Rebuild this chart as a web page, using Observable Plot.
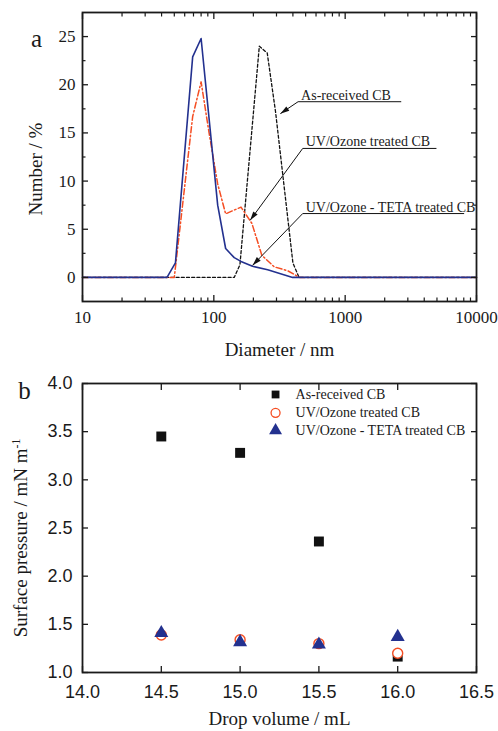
<!DOCTYPE html>
<html><head><meta charset="utf-8">
<script src="https://cdn.jsdelivr.net/npm/d3@7"></script>
<script src="https://cdn.jsdelivr.net/npm/@observablehq/plot@0.6"></script>
<style>
body{margin:0;background:#fff;}
#wrap{position:relative;width:498px;height:731px;background:#fff;overflow:hidden;}
#wrap svg{display:block;}
</style></head><body><div id="wrap"></div>
<script>
// ---------- Panel a: number size distribution ----------
const diamAsReceived = [10, 143, 158, 222, 255, 295, 400, 445, 10000];
const numAsReceived  = [0, 0, 1.3, 24.0, 23.3, 17.2, 1.5, 0, 0];

const diamUVOzone = [10, 50, 69, 80, 92, 107, 123, 161, 195, 232, 288, 364, 450, 10000];
const numUVOzone  = [0, 0, 16.7, 20.3, 15.0, 9.7, 6.6, 7.3, 5.6, 2.3, 1.1, 0.7, 0, 0];

const diamTeta = [10, 44, 51, 69, 80, 107, 123, 143, 161, 197, 257, 398, 10000];
const numTeta  = [0, 0, 1.5, 22.9, 24.8, 7.5, 3.0, 2.05, 1.66, 1.15, 0.8, 0, 0];

const xMajorA = [10, 100, 1000, 10000];
const xMinorA = [20,30,40,50,60,70,80,90,200,300,400,500,600,700,800,900,2000,3000,4000,5000,6000,7000,8000,9000];
const yMajorA = [0, 5, 10, 15, 20, 25];
const yMinorA = [2.5, 7.5, 12.5, 17.5, 22.5];

// annotation callouts (underline start/end, arrow tip)
const annotations = [
  {label: "As-received CB",              x1: 438, xEnd: 2672, y1: 18.24, x2: 321, y2: 17.0},
  {label: "UV/Ozone treated CB",         x1: 475, xEnd: 4955, y1: 13.39, x2: 189, y2: 5.93},
  {label: "UV/Ozone - TETA treated CB",  x1: 475, xEnd: 8054, y1: 6.63,  x2: 197, y2: 1.25}
];

// ---------- Panel b: surface pressure ----------
const dropVolume   = [14.5, 15.0, 15.5, 16.0];
const spAsReceived = [3.45, 3.28, 2.36, 1.165];
const spUVOzone    = [1.39, 1.34, 1.30, 1.20];
const spTeta       = [1.41, 1.315, 1.29, 1.37];

const xTicksB = [14.0, 14.5, 15.0, 15.5, 16.0, 16.5];
const yTicksB = [1.0, 1.5, 2.0, 2.5, 3.0, 3.5, 4.0];

const seriesNames = ["As-received CB", "UV/Ozone treated CB", "UV/Ozone - TETA treated CB"];
const legendX = 15.225;
const legendY = [3.886, 3.696, 3.512];

// ---------- styling ----------
const serif = "'Liberation Serif', 'Times New Roman', serif";
const sans = "'Liberation Sans', Arial, sans-serif";
const cBlue = "#23318f", cRed = "#f54d22", cBlack = "#111111";
const rows = (xs, ys) => xs.map((x, i) => ({x, y: ys[i]}));
const blank = () => "";

// filled, narrow arrowhead pointing along +x with its tip at the origin
const arrowHead = {
  draw(context) {
    context.moveTo(0, 0);
    context.lineTo(-9, -2.7);
    context.lineTo(-9, 2.7);
    context.closePath();
  }
};

function buildA(extra) {
  return Plot.plot({
    width: 498, height: 365,
    marginLeft: 82, marginRight: 22, marginTop: 12, marginBottom: 64,
    style: {fontFamily: serif, fontSize: "17px", background: "white", color: "#1a1a1a"},
    x: {type: "log", domain: [10, 10000]},
    y: {domain: [-2.5, 27.5]},
    marks: [
      Plot.line(rows(diamAsReceived, numAsReceived), {x: "x", y: "y", stroke: cBlack, strokeWidth: 1.3, strokeDasharray: "3,2.2"}),
      Plot.line(rows(diamUVOzone, numUVOzone), {x: "x", y: "y", stroke: cRed, strokeWidth: 1.5, strokeDasharray: "6,2.5,1.5,2.5"}),
      Plot.line(rows(diamTeta, numTeta), {x: "x", y: "y", stroke: cBlue, strokeWidth: 1.6}),
      Plot.link(annotations, {x1: "x1", x2: "xEnd", y1: "y1", y2: "y1", stroke: cBlack, strokeWidth: 1}),
      Plot.link(annotations, {x1: "x1", y1: "y1", x2: "x2", y2: "y2", stroke: cBlack, strokeWidth: 1}),
      Plot.text(annotations, {x: "x1", y: "y1", text: "label", textAnchor: "start", lineAnchor: "bottom", dx: 3, dy: -2, fontSize: 14, fill: "#1a1a1a"}),
      ...extra,
      // axes
      Plot.axisX({ticks: xMajorA, tickSize: 0, tickPadding: 9, tickFormat: d => String(d), label: null}),
      Plot.axisX({ticks: xMajorA, anchor: "bottom", tickSize: -6, tickFormat: blank, label: null, strokeWidth: 1.3}),
      Plot.axisX({ticks: xMinorA, anchor: "bottom", tickSize: -3.5, tickFormat: blank, label: null, strokeWidth: 1.2}),
      Plot.axisX({ticks: xMajorA, anchor: "top", tickSize: -6, tickFormat: blank, label: null, strokeWidth: 1.3}),
      Plot.axisX({ticks: xMinorA, anchor: "top", tickSize: -3.5, tickFormat: blank, label: null, strokeWidth: 1.2}),
      Plot.axisY({ticks: yMajorA, tickSize: 0, tickPadding: 7, label: null}),
      Plot.axisY({ticks: yMajorA, anchor: "left", tickSize: -6, tickFormat: blank, label: null, strokeWidth: 1.3}),
      Plot.axisY({ticks: yMinorA, anchor: "left", tickSize: -3.5, tickFormat: blank, label: null, strokeWidth: 1.2}),
      Plot.axisY({ticks: yMajorA, anchor: "right", tickSize: -6, tickFormat: blank, label: null, strokeWidth: 1.3}),
      Plot.axisY({ticks: yMinorA, anchor: "right", tickSize: -3.5, tickFormat: blank, label: null, strokeWidth: 1.2}),
      Plot.frame({stroke: "#1a1a1a", strokeWidth: 1.8}),
      Plot.text(["Diameter / nm"], {frameAnchor: "bottom", dy: 48, fontSize: 19, lineAnchor: "middle", fill: "#1a1a1a"}),
      Plot.text(["Number / %"], {frameAnchor: "left", rotate: -90, textAnchor: "middle", dx: -47, dy: 12, fontSize: 19, lineAnchor: "middle", fill: "#1a1a1a"}),
      Plot.text(["a"], {frameAnchor: "top-left", textAnchor: "middle", dx: -46, dy: 26, fontSize: 25, lineAnchor: "middle", fill: "#1a1a1a"})
    ]
  });
}

// first pass to read the scales, then orient the arrowheads in screen space
const pre = buildA([]);
const sx = pre.scale("x"), sy = pre.scale("y");
const heads = annotations.map(a => ({
  x: a.x2, y: a.y2,
  angle: Math.atan2(sy.apply(a.y2) - sy.apply(a.y1), sx.apply(a.x2) - sx.apply(a.x1)) * 180 / Math.PI
}));
const chartA = buildA([
  Plot.dot(heads, {x: "x", y: "y", rotate: "angle", symbol: arrowHead, r: 3, fill: cBlack, stroke: "none"})
]);

const legendRows = seriesNames.map((name, i) => ({name, x: legendX, y: legendY[i]}));

const chartB = Plot.plot({
  width: 498, height: 366,
  marginLeft: 82, marginRight: 22, marginTop: 18, marginBottom: 59,
  style: {fontFamily: sans, fontSize: "18px", background: "white", color: "#1a1a1a"},
  x: {domain: [14, 16.5]},
  y: {domain: [1, 4]},
  marks: [
    Plot.dot(rows(dropVolume, spAsReceived), {x: "x", y: "y", symbol: "square", r: 5.6, fill: cBlack, stroke: "none"}),
    Plot.dot(rows(dropVolume, spUVOzone), {x: "x", y: "y", symbol: "circle", r: 5, fill: "white", stroke: cRed, strokeWidth: 1.4}),
    Plot.dot(rows(dropVolume, spTeta), {x: "x", y: "y", symbol: "triangle", r: 5.2, fill: cBlue, stroke: "none"}),
    // legend
    Plot.dot([legendRows[0]], {x: "x", y: "y", symbol: "square", r: 4.4, fill: cBlack}),
    Plot.dot([legendRows[1]], {x: "x", y: "y", symbol: "circle", r: 4.5, fill: "white", stroke: cRed, strokeWidth: 1.3}),
    Plot.dot([legendRows[2]], {x: "x", y: "y", symbol: "triangle", r: 4.8, fill: cBlue}),
    Plot.text(legendRows, {x: "x", y: "y", text: "name", textAnchor: "start", dx: 20, fontSize: 14, fontFamily: serif, fill: "#1a1a1a"}),
    // axes
    Plot.axisX({ticks: xTicksB, tickSize: 0, tickPadding: 13, tickFormat: d3.format(".1f"), label: null}),
    Plot.axisX({ticks: xTicksB, anchor: "bottom", tickSize: -6, tickFormat: blank, label: null, strokeWidth: 1.3}),
    Plot.axisX({ticks: xTicksB, anchor: "top", tickSize: -6, tickFormat: blank, label: null, strokeWidth: 1.3}),
    Plot.axisY({ticks: yTicksB, tickSize: 0, tickPadding: 10, tickFormat: d3.format(".1f"), label: null}),
    Plot.axisY({ticks: yTicksB, anchor: "left", tickSize: -6, tickFormat: blank, label: null, strokeWidth: 1.3}),
    Plot.axisY({ticks: yTicksB, anchor: "right", tickSize: -6, tickFormat: blank, label: null, strokeWidth: 1.3}),
    Plot.frame({stroke: "#1a1a1a", strokeWidth: 1.8}),
    Plot.text(["Drop volume / mL"], {frameAnchor: "bottom", dy: 46, fontSize: 19, fontFamily: serif, lineAnchor: "middle", fill: "#1a1a1a"}),
    Plot.text(["Surface pressure / mN m-1"], {frameAnchor: "left", rotate: -90, textAnchor: "middle", dx: -62, dy: 10, fontSize: 19, fontFamily: serif, lineAnchor: "middle", fill: "#1a1a1a"}),
    Plot.text(["b"], {frameAnchor: "top-left", textAnchor: "middle", dx: -58, dy: 7, fontSize: 25, fontFamily: serif, lineAnchor: "middle", fill: "#1a1a1a"})
  ]
});

const wrap = document.getElementById("wrap");
wrap.appendChild(chartA);
wrap.appendChild(chartB);

// superscript for the unit m^-1
d3.select(chartB).selectAll("text").each(function() {
  const t = this.textContent;
  if (t === "Surface pressure / mN m-1") {
    const el = d3.select(this);
    el.text(null);
    el.append("tspan").text("Surface pressure / mN m");
    el.append("tspan").attr("dy", "-0.55em").attr("font-size", "0.62em").text("-1");
  }
});
</script></body></html>
